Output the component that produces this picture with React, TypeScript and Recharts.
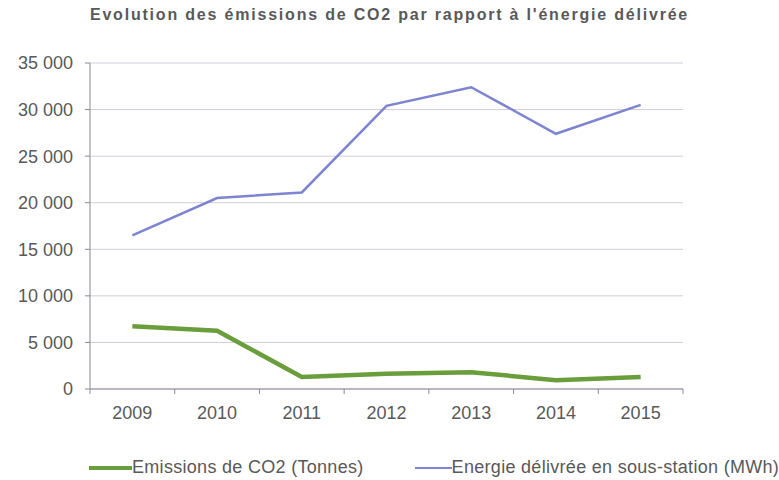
import React from 'react';
import { LineChart, Line, XAxis, YAxis, CartesianGrid, Legend } from 'recharts';

const years = ['2009', '2010', '2011', '2012', '2013', '2014', '2015'];
const emissions = [6750, 6250, 1300, 1650, 1800, 950, 1300];
const energie = [16500, 20500, 21100, 30400, 32400, 27400, 30500];
const yTicks = [0, 5000, 10000, 15000, 20000, 25000, 30000, 35000];

const data = years.map((year, i) => ({ year, emissions: emissions[i], energie: energie[i] }));

const textColor = '#595959';
const axisColor = '#8e8796';

const fmt = (v: number) => v.toLocaleString('fr-FR').replace(/\s/g, ' ');

function YearTick(props: any) {
    const { x, y, payload, index, visibleTicksCount, width } = props;
    const half = payload.offset || (width ? width / (visibleTicksCount * 2) : 42);
    return (
        <g>
            <line x1={x - half} y1={y} x2={x - half} y2={y + 5} stroke={axisColor} />
            {index === visibleTicksCount - 1 && (
                <line x1={x + half} y1={y} x2={x + half} y2={y + 5} stroke={axisColor} />
            )}
            <text x={x} y={y + 30} textAnchor="middle" fill={textColor} fontSize={18}>
                {payload.value}
            </text>
        </g>
    );
}

function LegendContent(props: any) {
    const { payload } = props;
    return (
        <div style={{ display: 'flex', alignItems: 'center', paddingLeft: 89, fontSize: 18, lineHeight: '21px', height: 21, color: textColor, letterSpacing: 0.3, whiteSpace: 'nowrap' }}>
            {payload.map((p: any, i: number) => (
                <div key={p.value} style={{ display: 'flex', alignItems: 'center', flexShrink: 0, marginRight: i === 0 ? 51 : 0 }}>
                    <div style={{ width: i === 0 ? 43 : 37, height: i === 0 ? 4 : 2, background: p.color }} />
                    <span>{p.value}</span>
                </div>
            ))}
        </div>
    );
}

export default function App() {
    return (
        <div style={{ position: 'absolute', left: 0, top: 0, width: 779, height: 480, background: '#fff', fontFamily: '"Liberation Sans", Arial, sans-serif' }}>
            <div style={{ position: 'absolute', left: 0, top: 7, width: 779, textAlign: 'center', fontSize: 16, lineHeight: '16px', fontWeight: 'bold', color: textColor, letterSpacing: 1.8 }}>
                Evolution des émissions de CO2 par rapport à l'énergie délivrée
            </div>
            <LineChart width={779} height={480} data={data} margin={{ top: 63, right: 96, left: 0, bottom: 0 }}>
                <CartesianGrid vertical={false} stroke="#d3cbdb" />
                <XAxis
                    dataKey="year"
                    scale="band"
                    height={70}
                    stroke={axisColor}
                    tickLine={false}
                    tickSize={0}
                    tickMargin={0}
                    tick={<YearTick />}
                    interval={0}
                />
                <YAxis
                    width={90}
                    domain={[0, 35000]}
                    ticks={yTicks}
                    tickFormatter={fmt}
                    stroke={axisColor}
                    tickSize={5}
                    tickMargin={12}
                    tick={{ fill: textColor, fontSize: 18 }}
                />
                <Legend
                    content={<LegendContent />}
                    wrapperStyle={{ position: 'absolute', left: 0, top: 457, width: 779 }}
                />
                <Line
                    dataKey="emissions"
                    name="Emissions de CO2 (Tonnes)"
                    stroke="#6a9e3c"
                    strokeWidth={4.5}
                    dot={false}
                    isAnimationActive={false}
                />
                <Line
                    dataKey="energie"
                    name="Energie délivrée en sous-station (MWh)"
                    stroke="#7d84d0"
                    strokeWidth={2.5}
                    dot={false}
                    isAnimationActive={false}
                />
            </LineChart>
        </div>
    );
}
